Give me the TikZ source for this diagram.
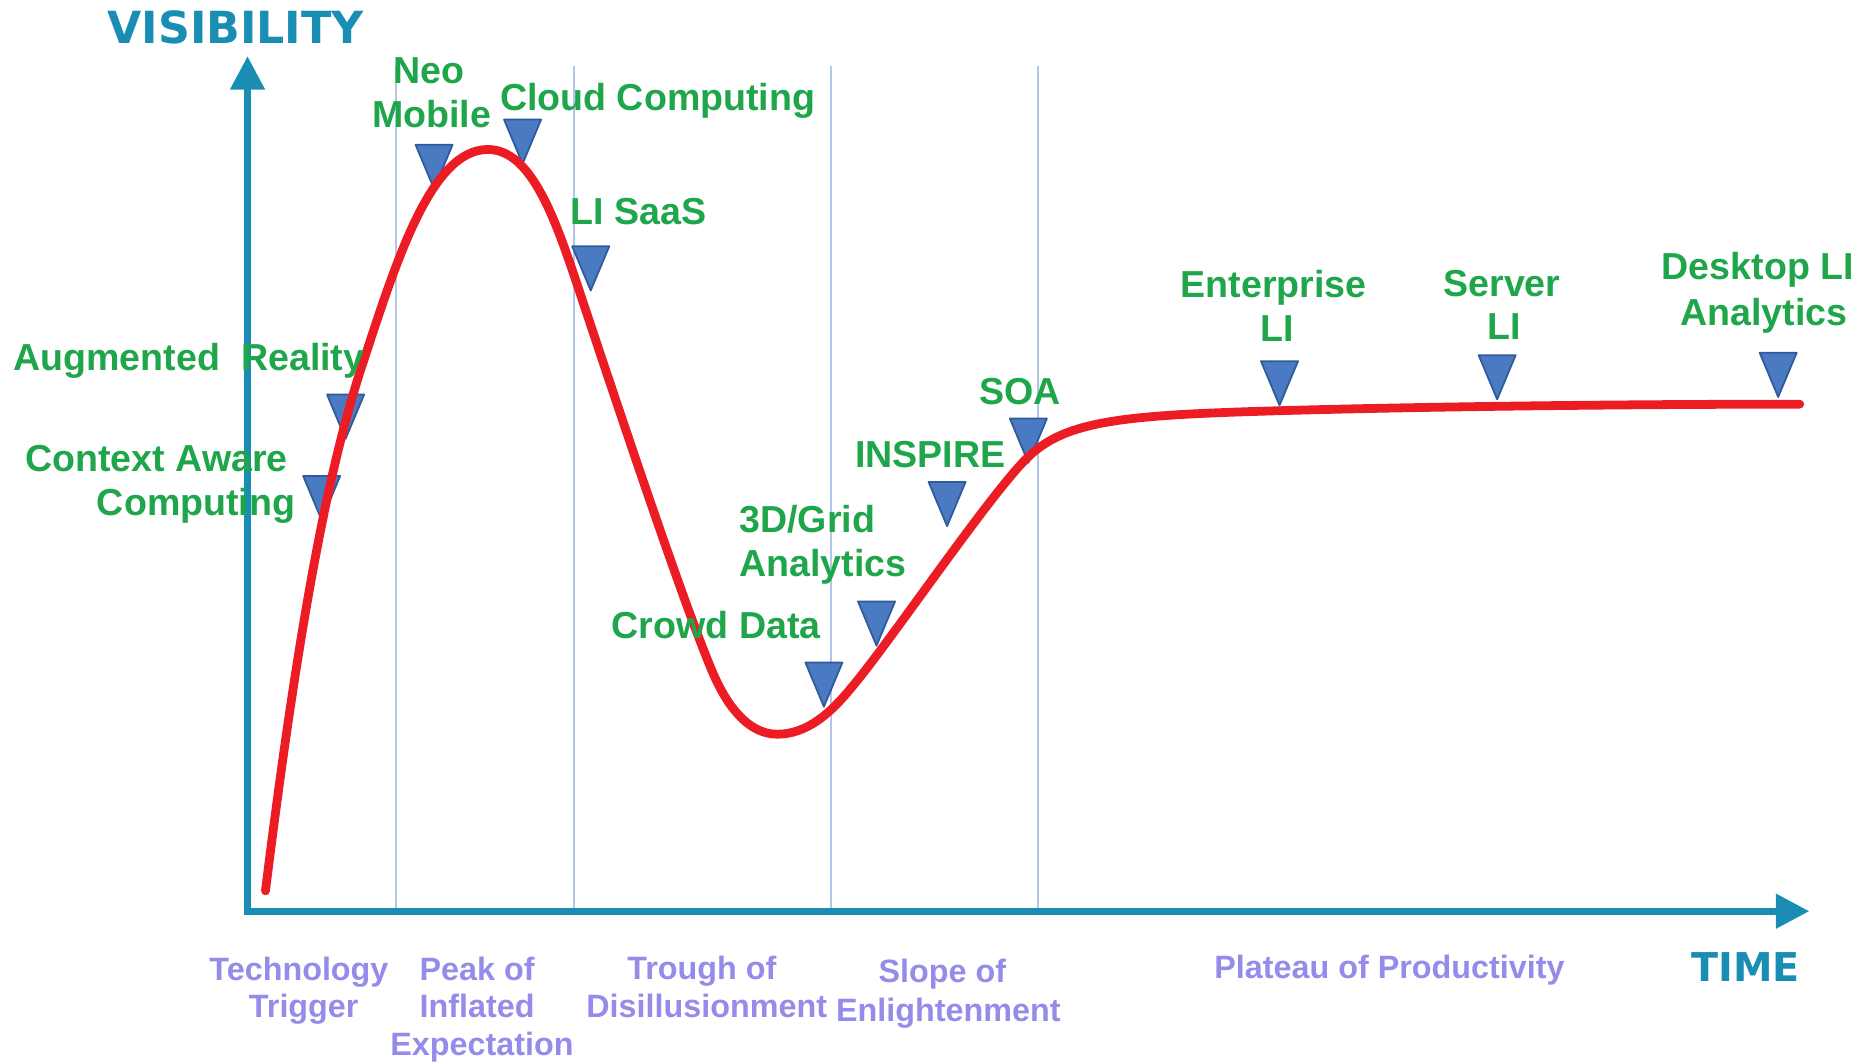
\documentclass[tikz,border=0pt]{standalone}
\usepackage{fontspec}
\setmainfont{Liberation Sans}
\newfontfamily\titlefont{DejaVu Sans}
\usetikzlibrary{arrows.meta}
\definecolor{axisc}{HTML}{1A8DB4}
\definecolor{gridc}{HTML}{B2C6EA}
\definecolor{curvec}{HTML}{EC1C24}
\definecolor{mkfill}{HTML}{4A7AC2}
\definecolor{mkedge}{HTML}{2F5A9C}
\definecolor{lblc}{HTML}{1FA64A}
\definecolor{phc}{HTML}{948CE8}
\begin{document}
\begin{tikzpicture}[x=0.011958cm,y=-0.011958cm,
  axis/.style={draw=axisc,line width=1.9pt,line join=miter,
    {Triangle[length=9.5pt,width=9.5pt]}-{Triangle[length=9.5pt,width=9.5pt]}},
  gridline/.style={draw=gridc,line width=0.6pt},
  hype/.style={draw=curvec,line width=2.5pt,line cap=round,line join=round},
  mk/.style={fill=mkfill,draw=mkedge,line width=0.5pt,line join=round},
  lbl/.style={text=lblc,font=\fontsize{10.7}{12.8}\selectfont\bfseries,inner sep=0pt,anchor=base},
  phase/.style={text=phc,font=\fontsize{9.2}{11.2}\selectfont\bfseries,inner sep=0pt,anchor=base},
  ttl/.style={text=axisc,font=\titlefont\bfseries,inner sep=0pt,anchor=base}]
\useasboundingbox (0,0) rectangle (1568,889);
\newcommand\mkr[3]{\coordinate (#1) at (#2,#3);
  \draw[mk] (#1) -- ++(-15.5,-37) -- ++(31,0) -- cycle;}

% grid lines
\foreach \gx/\gn in {331/g1,480/g2,695/g3,868/g4}{
  \coordinate (\gn t) at (\gx,55);
  \coordinate (\gn b) at (\gx,760);
  \draw[gridline] (\gn t) -- (\gn b);
}

% axes
\coordinate (O) at (207,762);
\coordinate (ytop) at (207,47);
\coordinate (xend) at (1513,762);
\draw[axis] (ytop) -- (O) -- (xend);

\node[ttl,font=\titlefont\bfseries\fontsize{12.6}{14}\selectfont] (vis) at (197,36) {VISIBILITY};
\node[ttl,font=\titlefont\bfseries\fontsize{11.3}{13}\selectfont] (time) at (1460,821) {TIME};

% markers
\mkr{mctx}{269}{435}
\mkr{maug}{289}{367}
\mkr{mneo}{363}{158}
\mkr{mcloud}{437}{137}
\mkr{msaas}{494}{243}
\mkr{mcrowd}{689}{591}
\mkr{mgrid}{733}{540}
\mkr{minsp}{792}{440}
\mkr{msoa}{860}{387}
\mkr{ment}{1070}{339}
\mkr{mserv}{1252}{334}
\mkr{mdesk}{1487}{332}

% hype curve
\coordinate (cA) at (222,745);
\coordinate (cB) at (303,305);
\coordinate (cP) at (408,125);
\coordinate (cQ) at (485,245);
\coordinate (cR) at (595,560);
\coordinate (cT) at (650,614);
\coordinate (cU) at (712,575);
\coordinate (cV) at (860,382);
\coordinate (cW) at (1000,346);
\coordinate (cZ) at (1505,338);
\draw[hype] (cA) .. controls (250,520) and (275,390) .. (cB)
  .. controls (331,220) and (360,125) .. (cP)
  .. controls (445,125) and (465,185) .. (cQ)
  .. controls (520,350) and (570,500) .. (cR)
  .. controls (607,589) and (625,614) .. (cT)
  .. controls (675,614) and (695,596) .. (cU)
  .. controls (742,540) and (830,410) .. (cV)
  .. controls (885,358) and (920,350) .. (cW)
  .. controls (1080,342) and (1300,338) .. (cZ);

% green labels
\node[lbl] (neo1) at (359,70) {Neo};
\node[lbl] (neo2) at (361,107) {Mobile};
\node[lbl] (cloud) at (550,92) {Cloud Computing};
\node[lbl] (saas) at (534,188) {LI SaaS};
\node[lbl] (aug) at (158,310) {Augmented\ \ Reality};
\node[lbl] (ctx1) at (131,394) {Context Aware};
\node[lbl] (ctx2) at (164,431) {Computing};
\node[lbl] (grid1) at (675,445) {3D/Grid};
\node[lbl] (grid2) at (688,482) {Analytics};
\node[lbl] (crowd) at (599,534) {Crowd Data};
\node[lbl] (insp) at (778,391) {INSPIRE};
\node[lbl] (soa) at (853,338) {SOA};
\node[lbl] (ent1) at (1065,249) {Enterprise};
\node[lbl] (ent2) at (1068,286) {LI};
\node[lbl] (srv1) at (1256,248) {Server};
\node[lbl] (srv2) at (1258,284) {LI};
\node[lbl] (dsk1) at (1470,234) {Desktop LI};
\node[lbl] (dsk2) at (1475,272) {Analytics};

% phase labels
\node[phase] (p1a) at (250,820) {Technology};
\node[phase] (p1b) at (254,851) {Trigger};
\node[phase] (p2a) at (399,820) {Peak of};
\node[phase] (p2b) at (399,851) {Inflated};
\node[phase] (p2c) at (403,883) {Expectation};
\node[phase] (p3a) at (587,819) {Trough of};
\node[phase] (p3b) at (591,851) {Disillusionment};
\node[phase] (p4a) at (788,822) {Slope of};
\node[phase] (p4b) at (793,854) {Enlightenment};
\node[phase] (p5) at (1162,818) {Plateau of Productivity};
\end{tikzpicture}
\end{document}
